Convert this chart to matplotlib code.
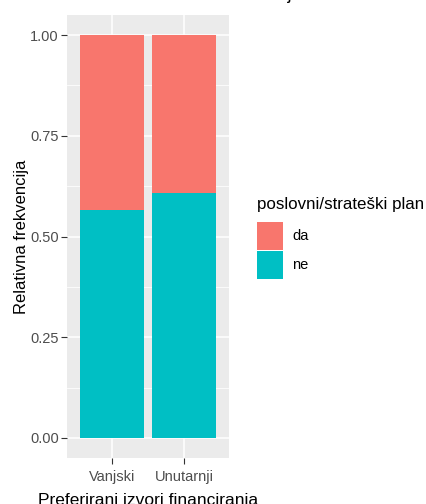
import numpy as np
import matplotlib.pyplot as plt
from matplotlib.patches import Rectangle

plt.rcParams['font.family'] = ['Liberation Sans', 'DejaVu Sans']

# data
categories = ['Vanjski', 'Unutarnji']
share_ne = [0.566, 0.607]
share_da = [1 - v for v in share_ne]
legend_title = 'poslovni/strateški plan'
legend_labels = ['da', 'ne']
colors = {'da': '#F8766D', 'ne': '#00BFC4'}

W, H = 427, 504
fig = plt.figure(figsize=(W / 100, H / 100), dpi=100)
ax = fig.add_axes([67 / W, 46 / H, 162 / W, 443 / H])
ax.set_facecolor('#EBEBEB')

x = np.arange(1, len(categories) + 1)
ax.bar(x, share_ne, width=0.9, color=colors['ne'], zorder=3)
ax.bar(x, share_da, width=0.9, bottom=share_ne, color=colors['da'], zorder=3)

ax.set_xlim(0.375, 2.625)
ax.set_ylim(-0.05, 1.05)
ax.set_xticks(x)
ax.set_xticklabels(categories)
yt = [0, 0.25, 0.5, 0.75, 1.0]
ax.set_yticks(yt)
ax.set_yticklabels(['%.2f' % v for v in yt])
ax.set_yticks([0.125, 0.375, 0.625, 0.875], minor=True)

ax.grid(True, which='major', color='white', linewidth=1.1, zorder=0)
ax.grid(True, which='minor', axis='y', color='white', linewidth=0.55, zorder=0)
ax.tick_params(which='major', length=4, width=0.8, color='#333333',
               labelsize=10.5, labelcolor='#4D4D4D')
ax.tick_params(axis='y', pad=2)
ax.tick_params(axis='x', pad=5)
ax.tick_params(which='minor', length=0)
for s in ax.spines.values():
    s.set_visible(False)

ax.set_ylabel('Relativna frekvencija', fontsize=12, labelpad=1)
ax.set_xlabel('Preferirani izvori financiranja', fontsize=12.5, labelpad=6)

# title (cut off at the top of the image)
fig.text(302 / W, 1 + 1 / H, 'Izvori financiranja', fontsize=13.5,
         ha='right', va='baseline')

# legend
fig.text(257 / W, 1 - 205 / H, legend_title, fontsize=12.2, va='center', ha='left')
key_tops = [221, 250]
for lab, top in zip(legend_labels, key_tops):
    fig.add_artist(Rectangle((257 / W, 1 - (top + 29) / H), 26 / W, 28.5 / H,
                             transform=fig.transFigure, facecolor=colors[lab],
                             edgecolor='none'))
    fig.text(292 / W, 1 - (top + 15) / H, lab, fontsize=10.5, va='center', ha='left')

fig.savefig('out.png', dpi=100)
